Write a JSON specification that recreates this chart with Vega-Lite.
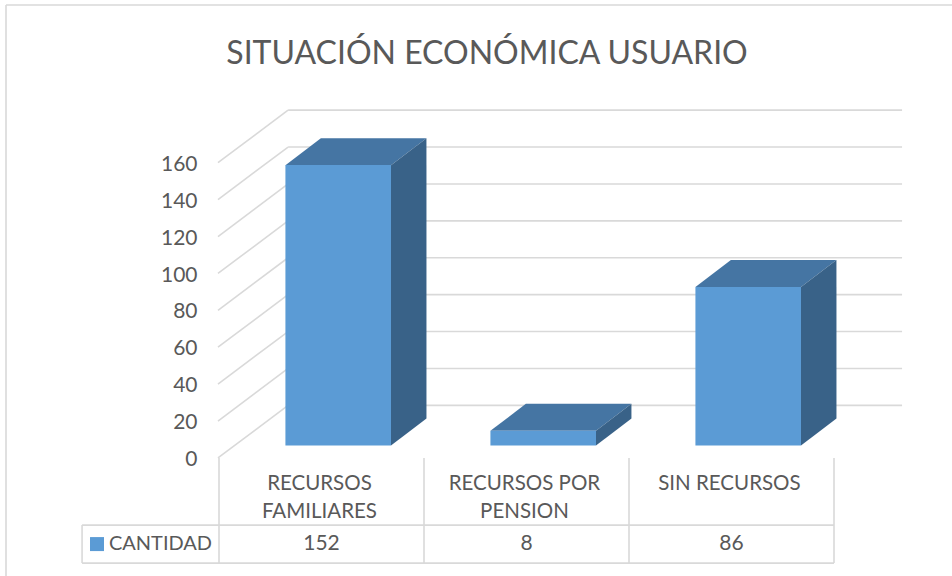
{
"$schema":"https://vega.github.io/schema/vega-lite/v6.json",
"width":952,"height":576,"padding":0,"autosize":{"type":"none"},
"background":"white",
"view":{"stroke":null},
"title":{"text":"SITUACIÓN ECONÓMICA USUARIO","font":"Lato","fontSize":32,"fontWeight":"normal","color":"#595959","anchor":"middle","frame":"group","baseline":"alphabetic","offset":-63,"dx":11,"dy":33},
"datasets":{
"barras":[
{"categoria":"RECURSOS\nFAMILIARES","cantidad":152},
{"categoria":"RECURSOS POR\nPENSION","cantidad":8},
{"categoria":"SIN RECURSOS","cantidad":86}
],
"ticks":[{"t":0},{"t":20},{"t":40},{"t":60},{"t":80},{"t":100},{"t":120},{"t":140},{"t":160}],
"hlineas":[{"a":-1.039,"b":3.5756,"v":245},{"a":-0.668,"b":3,"v":-36.9},{"a":-0.668,"b":3,"v":-57.5}],
"vlineas":[{"c":-1.039,"v1":245,"v2":-64.5},{"c":-0.668,"v1":-36.9,"v2":-57.5},{"c":0,"v1":-0.5,"v2":-57.5},{"c":1,"v1":-0.5,"v2":-57.5},{"c":2,"v1":-0.5,"v2":-57.5},{"c":3,"v1":-0.5,"v2":-57.5}]
},
"data":{"name":"barras"},
"layer":[
{"data":{"name":"ticks"},"transform":[{"calculate":"datum.t+28","as":"w"}],
 "mark":{"type":"rule","stroke":"#d9d9d9","strokeWidth":1.6},
 "encoding":{"x":{"datum":0.337,"type":"quantitative","scale":{"domain":[-1.0683,3.5756],"nice":false,"zero":false},"axis":null},"x2":{"datum":3.332},
 "y":{"field":"w","type":"quantitative","scale":{"domain":[-64.5,247.7],"nice":false,"zero":false},
 "axis":{"values":[0,20,40,60,80,100,120,140,160],"offset":-197,"labelPadding":0,"labelOffset":2.5,"ticks":false,"domain":false,"grid":false,"title":null,"labelFont":"Lato","labelFontSize":21,"labelColor":"#595959"}}}},
{"data":{"name":"ticks"},"transform":[{"calculate":"datum.t+28","as":"w"},{"calculate":"datum.t-0.5","as":"s"}],
 "mark":{"type":"rule","stroke":"#d9d9d9","strokeWidth":1.6},
 "encoding":{"x":{"datum":-0.005,"type":"quantitative","scale":{"domain":[-1.0683,3.5756],"nice":false,"zero":false},"axis":null},"x2":{"datum":0.337},
 "y":{"field":"s","type":"quantitative","scale":{"domain":[-64.5,247.7],"nice":false,"zero":false}},"y2":{"field":"w"}}},
{"data":{"name":"hlineas"},
 "mark":{"type":"rule","stroke":"#d9d9d9","strokeWidth":1.6},
 "encoding":{"x":{"field":"a","type":"quantitative","scale":{"domain":[-1.0683,3.5756],"nice":false,"zero":false},"axis":null},"x2":{"field":"b"},
 "y":{"field":"v","type":"quantitative","scale":{"domain":[-64.5,247.7],"nice":false,"zero":false}}}},
{"data":{"name":"vlineas"},
 "mark":{"type":"rule","stroke":"#d9d9d9","strokeWidth":1.6},
 "encoding":{"x":{"field":"c","type":"quantitative","scale":{"domain":[-1.0683,3.5756],"nice":false,"zero":false},"axis":null},
 "y":{"field":"v1","type":"quantitative","scale":{"domain":[-64.5,247.7],"nice":false,"zero":false}},"y2":{"field":"v2"}}},
{"transform":[{"window":[{"op":"row_number","as":"n"}]},{"calculate":"[0,1]","as":"d"},{"flatten":["d"]},
 {"calculate":"datum.n-1+0.324+datum.d*0.173","as":"xa"},{"calculate":"datum.xa+0.515","as":"xb"},{"calculate":"datum.cantidad+6.2+datum.d*14.6","as":"yt"}],
 "mark":{"type":"area","orient":"horizontal","color":"#4575a3"},
 "encoding":{"detail":{"field":"categoria"},"x":{"field":"xa","type":"quantitative","scale":{"domain":[-1.0683,3.5756],"nice":false,"zero":false},"axis":null},"x2":{"field":"xb"},
 "y":{"field":"yt","type":"quantitative","scale":{"domain":[-64.5,247.7],"nice":false,"zero":false}}}},
{"transform":[{"window":[{"op":"row_number","as":"n"}]},{"calculate":"[0,1]","as":"d"},{"flatten":["d"]},
 {"calculate":"datum.n-1+0.839+datum.d*0.173","as":"xa"},{"calculate":"datum.cantidad+6.2+datum.d*14.6","as":"yt"},{"calculate":"6.2+datum.d*14.6","as":"yb"}],
 "mark":{"type":"area","orient":"vertical","color":"#396288"},
 "encoding":{"detail":{"field":"categoria"},"x":{"field":"xa","type":"quantitative","scale":{"domain":[-1.0683,3.5756],"nice":false,"zero":false},"axis":null},
 "y":{"field":"yt","type":"quantitative","scale":{"domain":[-64.5,247.7],"nice":false,"zero":false}},"y2":{"field":"yb"}}},
{"transform":[{"window":[{"op":"row_number","as":"n"}]},{"calculate":"datum.n-1+0.324","as":"xa"},{"calculate":"datum.xa+0.515","as":"xb"},{"calculate":"datum.cantidad+6.2","as":"yt"},{"calculate":"6.2","as":"yb"}],
 "mark":{"type":"rect","color":"#5b9bd5"},
 "encoding":{"x":{"field":"xa","type":"quantitative","scale":{"domain":[-1.0683,3.5756],"nice":false,"zero":false},"axis":null},"x2":{"field":"xb"},
 "y":{"field":"yt","type":"quantitative","scale":{"domain":[-64.5,247.7],"nice":false,"zero":false}},"y2":{"field":"yb"}}},
{"transform":[{"window":[{"op":"row_number","as":"n"}]},{"calculate":"datum.n-0.51","as":"xc"},{"calculate":"-9.1","as":"yc"}],
 "mark":{"type":"text","font":"Lato","fontSize":20.5,"color":"#595959","lineBreak":"\n","lineHeight":28,"baseline":"top","align":"center"},
 "encoding":{"text":{"field":"categoria"},"x":{"field":"xc","type":"quantitative","scale":{"domain":[-1.0683,3.5756],"nice":false,"zero":false},"axis":null},
 "y":{"field":"yc","type":"quantitative","scale":{"domain":[-64.5,247.7],"nice":false,"zero":false}}}},
{"transform":[{"window":[{"op":"row_number","as":"n"}]},{"calculate":"datum.n-0.5","as":"xc"},{"calculate":"-47.2","as":"yc"}],
 "mark":{"type":"text","font":"Lato","fontSize":21,"color":"#595959","baseline":"middle","align":"center"},
 "encoding":{"text":{"field":"cantidad"},"x":{"field":"xc","type":"quantitative","scale":{"domain":[-1.0683,3.5756],"nice":false,"zero":false},"axis":null},
 "y":{"field":"yc","type":"quantitative","scale":{"domain":[-64.5,247.7],"nice":false,"zero":false}}}},
{"data":{"values":[{"serie":"CANTIDAD"}]},
 "mark":{"type":"square","color":"#5b9bd5","size":196,"opacity":1},
 "encoding":{"x":{"datum":-0.595,"type":"quantitative","scale":{"domain":[-1.0683,3.5756],"nice":false,"zero":false},"axis":null},
 "y":{"datum":-47.2,"type":"quantitative","scale":{"domain":[-64.5,247.7],"nice":false,"zero":false}}}},
{"data":{"values":[{"serie":"CANTIDAD"}]},
 "mark":{"type":"text","font":"Lato","fontSize":20,"color":"#595959","baseline":"middle","align":"left"},
 "encoding":{"text":{"field":"serie"},"x":{"datum":-0.537,"type":"quantitative","scale":{"domain":[-1.0683,3.5756],"nice":false,"zero":false},"axis":null},
 "y":{"datum":-47.2,"type":"quantitative","scale":{"domain":[-64.5,247.7],"nice":false,"zero":false}}}}
]
}
